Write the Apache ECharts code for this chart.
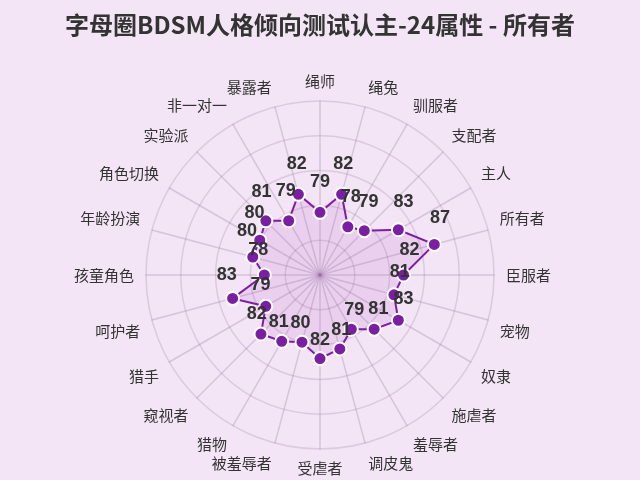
<!DOCTYPE html>
<html>
<head>
<meta charset="utf-8">
<script src="https://cdn.jsdelivr.net/npm/echarts@6/dist/echarts.min.js"></script>
<style>
html,body{margin:0;padding:0;background:#f3e5f5;}
#main{width:640px;height:480px;}
</style>
</head>
<body>
<div id="main"></div>
<script>
// Listed clockwise from the top, as in the reference
const indicatorNames = ['绳师','绳兔','驯服者','支配者','主人','所有者','臣服者','宠物','奴隶','施虐者','羞辱者','调皮鬼','受虐者','被羞辱者','猎物','窥视者','猎手','呵护者','孩童角色','年龄扮演','角色切换','实验派','非一对一','暴露者'];
const scores = [79,82,78,79,83,87,82,81,83,81,79,81,82,80,81,82,79,83,78,80,80,81,79,82];
const axisMin = 70;
const axisMax = 95;

// ECharts radar runs counter-clockwise; reorder so the display runs clockwise
function clockwise(arr) { return [arr[0]].concat(arr.slice(1).reverse()); }
const names = clockwise(indicatorNames);
const vals = clockwise(scores);

const nameFont = {color: '#333', fontSize: 15, fontFamily: 'Noto Sans CJK SC'};
const valueFont = {color: '#333', fontSize: 18, fontWeight: 'bold', fontFamily: 'Liberation Sans'};

function nameFormatter(name) {
  const i = indicatorNames.indexOf(name);
  const n = indicatorNames.length;
  const q = n / 4;
  if (i % q === 0) return name;
  if (i < q || i > 3 * q) return '{u|' + name + '}';
  return '{d|' + name + '}';
}

// value labels are nudged a little outward from the centre, per axis
const labelRich = {};
const nDim = names.length;
for (let j = 0; j < nDim; j++) {
  const th = j * 2 * Math.PI / nDim; // counter-clockwise from top in display
  const dx = -6 * Math.sin(th);
  const dy = -6 * Math.cos(th);
  const pl = dx > 0 ? 2 * dx : 0;
  const pr = dx < 0 ? -2 * dx : 0;
  const pb = 6 - dy;
  labelRich['r' + j] = Object.assign({}, valueFont, {padding: [0, pr, pb, pl]});
}

const chart = echarts.init(document.getElementById('main'));
chart.setOption({
  backgroundColor: '#f3e5f5',
  title: {
    text: '字母圈BDSM人格倾向测试认主-24属性 - 所有者',
    left: 'center',
    top: 8,
    textStyle: {fontFamily: 'Noto Sans CJK SC', fontSize: 24, fontWeight: 'bold', color: '#333'}
  },
  radar: {
    center: ['50%', 275],
    radius: 174,
    startAngle: 90,
    shape: 'circle',
    splitNumber: 5,
    indicator: names.map(n => ({name: n, min: axisMin, max: axisMax})),
    axisName: Object.assign({}, nameFont, {
      formatter: nameFormatter,
      rich: {
        u: Object.assign({}, nameFont, {padding: [0, 0, 17, 0]}),
        d: Object.assign({}, nameFont, {padding: [17, 0, 0, 0]})
      }
    }),
    nameGap: 12,
    splitLine: {lineStyle: {color: 'rgba(150,120,160,0.25)', width: 1.5}},
    axisLine: {lineStyle: {color: 'rgba(150,120,160,0.3)', width: 1.5}},
    splitArea: {show: false}
  },
  series: [{
    type: 'radar',
    symbol: 'circle',
    symbolSize: 13,
    data: [{
      value: vals,
      name: '所有者'
    }],
    lineStyle: {color: '#7b1fa2', width: 2},
    itemStyle: {color: '#7b1fa2', borderColor: '#fff', borderWidth: 2},
    areaStyle: {color: 'rgba(156,39,176,0.15)'},
    label: Object.assign({}, valueFont, {
      show: true,
      position: 'top',
      distance: 2,
      formatter: function (p) {
        const j = p.dimensionIndex;
        if (j == null) return String(p.value);
        return '{r' + j + '|' + p.value + '}';
      },
      rich: labelRich
    })
  }]
});
</script>
</body>
</html>
